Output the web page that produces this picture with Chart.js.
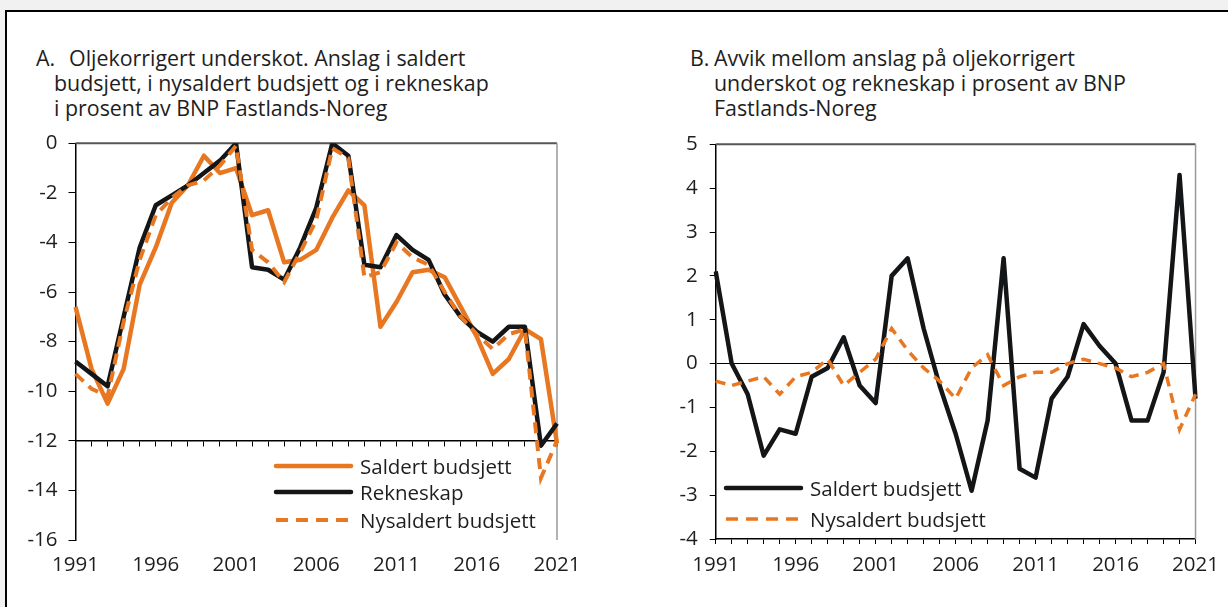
<!DOCTYPE html>
<html>
<head>
<meta charset="utf-8">
<script src="https://cdn.jsdelivr.net/npm/chart.js@4"></script>
<style>
body { margin:0; background:#f1f1f1; font-family:"Open Sans", sans-serif; color:#1e1e1e; overflow:hidden; width:1228px; height:607px; }
#frame { position:absolute; left:5px; top:10px; width:1300px; height:700px; background:#fff; border:2px solid #000; }
.title { position:absolute; font-size:21.4px; line-height:25px; white-space:nowrap; }
.title .lab { position:absolute; left:0; top:0; }
.box { position:absolute; }
.leg { position:absolute; height:26px; display:flex; align-items:center; font-size:20.5px; white-space:nowrap; }
.leg svg { margin-right:6px; }
</style>
</head>
<body>
<div id="frame"></div>

<div class="title" style="left:36px;top:45px;">
  <span class="lab">A.</span>
  <div style="padding-left:18px"><span style="margin-left:15px">Oljekorrigert underskot. Anslag i saldert</span><br>budsjett, i nysaldert budsjett og i rekneskap<br>i prosent av BNP Fastlands-Noreg</div>
</div>
<div class="title" style="left:690px;top:45px;">
  <span class="lab">B.</span>
  <div style="padding-left:24px">Avvik mellom anslag på oljekorrigert<br>underskot og rekneskap i prosent av BNP<br>Fastlands-Noreg</div>
</div>

<div class="box" style="left:0;top:120px;"><canvas id="chartA" width="600" height="480"></canvas></div>
<div class="box" style="left:620px;top:120px;"><canvas id="chartB" width="608" height="480"></canvas></div>

<div class="leg" style="left:273px;top:453px;"><svg width="81" height="10"><line x1="3" y1="5" x2="78" y2="5" stroke="#e87722" stroke-width="4.5" stroke-linecap="round"/></svg>Saldert budsjett</div>
<div class="leg" style="left:273px;top:479px;"><svg width="81" height="10"><line x1="3" y1="5" x2="78" y2="5" stroke="#131516" stroke-width="4.5" stroke-linecap="round"/></svg>Rekneskap</div>
<div class="leg" style="left:273px;top:507px;"><svg width="81" height="10"><line x1="3" y1="5" x2="78" y2="5" stroke="#e87722" stroke-width="4" stroke-dasharray="12 8"/></svg>Nysaldert budsjett</div>

<div class="leg" style="left:723px;top:475px;"><svg width="81" height="10"><line x1="3" y1="5" x2="78" y2="5" stroke="#131516" stroke-width="4.5" stroke-linecap="round"/></svg>Saldert budsjett</div>
<div class="leg" style="left:723px;top:506px;"><svg width="81" height="10"><line x1="3" y1="5" x2="78" y2="5" stroke="#e87722" stroke-width="3.5" stroke-dasharray="12 8"/></svg>Nysaldert budsjett</div>

<script>
// years on the x axis
const years = ['1991','1992','1993','1994','1995','1996','1997','1998','1999','2000',
  '2001','2002','2003','2004','2005','2006','2007','2008','2009','2010',
  '2011','2012','2013','2014','2015','2016','2017','2018','2019','2020','2021'];
const yearLabels = ['1991','1996','2001','2006','2011','2016','2021'];

// panel A: underskot, prosent av BNP Fastlands-Noreg
const saldertA = [-6.6, -9.1, -10.5, -9.1, -5.7, -4.2, -2.4, -1.7, -0.5, -1.2,
  -1.0, -2.9, -2.7, -4.8, -4.7, -4.3, -3.0, -1.9, -2.5, -7.4,
  -6.4, -5.2, -5.1, -5.4, -6.6, -7.8, -9.3, -8.7, -7.5, -7.9, -12.1];
const rekneskapA = [-8.8, -9.3, -9.8, -7.0, -4.2, -2.5, -2.1, -1.7, -1.2, -0.7,
  0.0, -5.0, -5.1, -5.5, -4.2, -2.6, 0.0, -0.5, -4.9, -5.0,
  -3.7, -4.3, -4.7, -6.1, -7.0, -7.6, -8.0, -7.4, -7.4, -12.2, -11.3];
const nysaldertA = [-9.3, -9.9, -10.2, -7.2, -4.7, -2.9, -2.2, -1.7, -1.5, -0.9,
  -0.1, -4.3, -4.8, -5.6, -4.4, -3.1, -0.2, -0.6, -5.4, -5.2,
  -4.0, -4.6, -4.9, -6.0, -7.0, -7.7, -8.3, -7.7, -7.5, -13.5, -12.0];

// panel B: avvik mot rekneskap
const saldertB = [2.1, 0.0, -0.7, -2.1, -1.5, -1.6, -0.3, -0.1, 0.6, -0.5,
  -0.9, 2.0, 2.4, 0.8, -0.5, -1.6, -2.9, -1.3, 2.4, -2.4,
  -2.6, -0.8, -0.3, 0.9, 0.4, 0.0, -1.3, -1.3, -0.2, 4.3, -0.8];
const nysaldertB = [-0.4, -0.5, -0.4, -0.3, -0.7, -0.3, -0.2, 0.1, -0.5, -0.2,
  0.1, 0.8, 0.3, -0.1, -0.4, -0.8, -0.1, 0.2, -0.5, -0.3,
  -0.2, -0.2, 0.0, 0.1, 0.0, -0.1, -0.3, -0.2, 0.0, -1.5, -0.7];

const orange = '#e87722';
const black = '#131516';
const tickFont = { family: 'Open Sans', size: 20.5 };
const textColor = '#1e1e1e';

function yearTick(v, i) {
  return yearLabels.includes(years[i]) ? years[i] : '';
}

// grey top and right edge of the plot box
const frameLines = {
  id: 'frameLines',
  beforeDatasetsDraw(chart) {
    const ctx = chart.ctx, a = chart.chartArea;
    ctx.save();
    ctx.strokeStyle = '#555';
    ctx.lineWidth = 2;
    ctx.beginPath();
    ctx.moveTo(a.left, a.top);
    ctx.lineTo(a.right, a.top);
    ctx.stroke();
    ctx.strokeStyle = '#999';
    ctx.lineWidth = 1.5;
    ctx.beginPath();
    ctx.moveTo(a.right, a.top);
    ctx.lineTo(a.right, a.bottom);
    ctx.stroke();
    ctx.restore();
  }
};

new Chart(document.getElementById('chartA'), {
  type: 'line',
  data: {
    labels: years,
    datasets: [
      { label: 'Saldert budsjett', data: saldertA, borderColor: orange, borderWidth: 4.5, pointRadius: 0, borderJoinStyle: 'round', order: 3 },
      { label: 'Rekneskap', data: rekneskapA, borderColor: black, borderWidth: 4.5, pointRadius: 0, borderJoinStyle: 'round', order: 2 },
      { label: 'Nysaldert budsjett', data: nysaldertA, borderColor: orange, borderWidth: 4, borderDash: [11, 7], pointRadius: 0, order: 1 }
    ]
  },
  options: {
    responsive: false,
    animation: false,
    layout: { padding: { top: 23, right: 43, left: 0, bottom: 0 } },
    plugins: { legend: { display: false }, tooltip: { enabled: false } },
    scales: {
      x: {
        type: 'category', position: 'bottom', offset: false,
        grid: { display: false, drawTicks: false },
        border: { display: false },
        ticks: { autoSkip: false, maxRotation: 0, padding: 13, font: tickFont, color: textColor, callback: yearTick },
        afterFit: s => { s.height = 60; }
      },
      xLine: {
        type: 'category', axis: 'x', position: { y: -12 }, offset: false,
        grid: { display: true, drawOnChartArea: false, drawTicks: true, tickLength: 5, tickColor: '#000', tickWidth: 1 },
        border: { display: true, color: '#000', width: 1.5 },
        ticks: { display: false, autoSkip: false }
      },
      y: {
        min: -16, max: 0,
        ticks: { stepSize: 2, padding: 11, font: tickFont, color: textColor },
        grid: { drawOnChartArea: false, tickLength: 7, tickColor: '#000' },
        border: { color: '#000', width: 1.5 },
        afterFit: s => { s.width = 75.5; }
      }
    }
  },
  plugins: [frameLines]
});

new Chart(document.getElementById('chartB'), {
  type: 'line',
  data: {
    labels: years,
    datasets: [
      { label: 'Saldert budsjett', data: saldertB, borderColor: black, borderWidth: 4.5, pointRadius: 0, borderJoinStyle: 'round', order: 2 },
      { label: 'Nysaldert budsjett', data: nysaldertB, borderColor: orange, borderWidth: 3.5, borderDash: [10, 7], pointRadius: 0, order: 1 }
    ]
  },
  options: {
    responsive: false,
    animation: false,
    layout: { padding: { top: 21, right: 30, left: 0, bottom: 0 } },
    plugins: { legend: { display: false }, tooltip: { enabled: false } },
    scales: {
      x: {
        type: 'category', position: 'bottom', offset: false,
        grid: { display: true, drawOnChartArea: false, tickLength: 5, tickColor: '#000' },
        border: { color: '#000', width: 1.5 },
        ticks: { autoSkip: false, maxRotation: 0, padding: 9, font: tickFont, color: textColor, callback: yearTick },
        afterFit: s => { s.height = 61; }
      },
      y: {
        min: -4, max: 5,
        ticks: { stepSize: 1, padding: 12, font: tickFont, color: textColor },
        grid: { color: c => (c.tick && c.tick.value === 0) ? '#000' : 'rgba(0,0,0,0)', lineWidth: 1, tickLength: 6, tickColor: '#000' },
        border: { color: '#000', width: 1.5 },
        afterFit: s => { s.width = 95.7; }
      }
    }
  },
  plugins: [frameLines]
});
</script>
</body>
</html>
